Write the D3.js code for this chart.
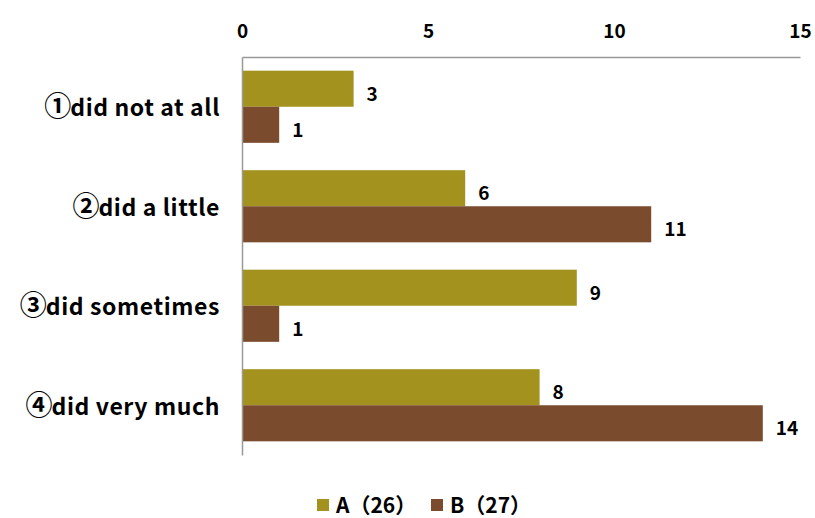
<!DOCTYPE html>
<html>
<head>
<meta charset="utf-8">
<script src="https://cdn.jsdelivr.net/npm/d3@7"></script>
<style>
  html, body { margin: 0; padding: 0; background: #fff; }
  svg { display: block; }
  text { font-family: "Noto Sans CJK JP", "Noto Sans", sans-serif; font-weight: bold; fill: #000; }
</style>
</head>
<body>
<svg id="chart" width="815" height="518"></svg>
<script>
// Survey responses per group
const categories = ["①did not at all", "②did a little", "③did sometimes", "④did very much"];
const seriesNames = ["A（26）", "B（27）"];
const seriesA = [3, 6, 9, 8];
const seriesB = [1, 11, 1, 14];
const xTicks = [0, 5, 10, 15];
const colors = ["#a4921e", "#7a4b2c"];

const svg = d3.select("#chart");
const margin = { left: 242, right: 15, top: 57, bottom: 63 };
const W = 815, H = 518;

const x = d3.scaleLinear().domain([0, 15]).range([margin.left, W - margin.right]);
const y = d3.scaleBand().domain(categories).range([margin.top, H - margin.bottom])
  .paddingInner(0.275).paddingOuter(0.1375);
const sub = d3.scaleBand().domain([0, 1]).range([0, y.bandwidth()]);

const rows = categories.map((c, i) => ({ cat: c, vals: [seriesA[i], seriesB[i]] }));

// bars with value labels
const g = svg.append("g");
rows.forEach(r => {
  r.vals.forEach((v, s) => {
    g.append("rect")
      .attr("x", x(0))
      .attr("y", y(r.cat) + sub(s))
      .attr("width", x(v) - x(0))
      .attr("height", sub.bandwidth())
      .attr("fill", colors[s]);
    g.append("text")
      .attr("x", x(v) + 13)
      .attr("y", y(r.cat) + sub(s) + sub.bandwidth() / 2 + 12)
      .attr("font-size", 19)
      .text(v);
  });
});

// top value axis
const xAxis = svg.append("g")
  .attr("transform", `translate(0,${margin.top})`)
  .call(d3.axisTop(x).tickValues(xTicks).tickSize(0).tickPadding(19));
xAxis.select(".domain").attr("stroke", "#999").attr("stroke-width", 1.5);
xAxis.selectAll("text").attr("font-size", 19).attr("font-family", null).attr("font-weight", null);

// category axis: circled numeral drawn a little larger than the words
const yAxis = svg.append("g")
  .attr("transform", `translate(${margin.left},0)`)
  .call(d3.axisLeft(y).tickSize(0).tickPadding(22));
yAxis.select(".domain").attr("stroke", "#999").attr("stroke-width", 1.5);
yAxis.selectAll("text")
  .attr("font-size", 23).attr("font-family", null).attr("font-weight", null)
  .attr("dy", "0.42em")
  .attr("letter-spacing", 0.6)
  .text(null)
  .each(function(d) {
    const t = d3.select(this);
    t.append("tspan").attr("font-size", 27).attr("letter-spacing", -1).text(d.slice(0, 1));
    t.append("tspan").text(d.slice(1));
  });

// legend
const legend = svg.append("g").attr("transform", "translate(317,505)");
const legX = [0, 114];
seriesNames.forEach((n, i) => {
  legend.append("rect").attr("x", legX[i]).attr("y", -6).attr("width", 12).attr("height", 12).attr("fill", colors[i]);
  legend.append("text").attr("x", legX[i] + 19).attr("y", 8).attr("font-size", 21).text(n);
});
</script>
</body>
</html>
